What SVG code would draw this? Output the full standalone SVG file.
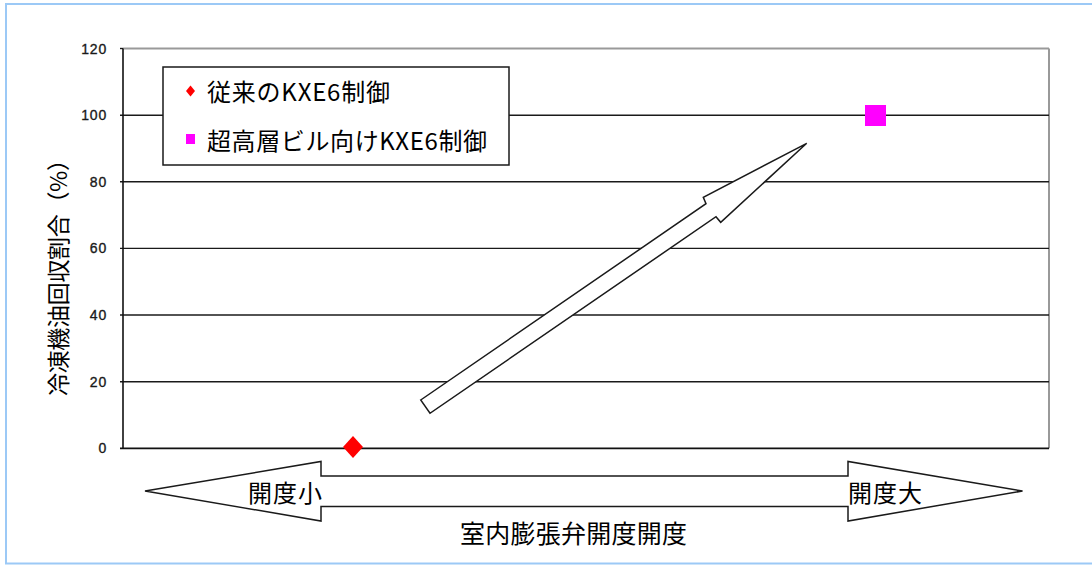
<svg xmlns="http://www.w3.org/2000/svg" width="1092" height="565" viewBox="0 0 1092 565">
  <style>
    .grid { stroke: #1a1a1a; stroke-width: 1.4; fill: none; }
    .tick { font-family: "Liberation Sans", Arial, sans-serif; font-size: 14px; fill: #1a1a1a; stroke: #1a1a1a; stroke-width: 0.35; text-anchor: end; letter-spacing: 0.8px; }
    .jp { font-family: "Noto Sans CJK JP", "Noto Sans", sans-serif; fill: #000; }
    .shape { fill: #fff; stroke: #1a1a1a; stroke-width: 1.5; stroke-linejoin: miter; }
  </style>
  <rect x="0" y="0" width="1092" height="565" fill="#fff"/>
  <rect x="6" y="4" width="1100" height="559.5" fill="none" stroke="#9cc9f6" stroke-width="2"/>

  <g id="plot-area">
    <line x1="123" y1="48.5" x2="1049" y2="48.5" stroke="#999" stroke-width="2"/>
    <line x1="1049" y1="48.5" x2="1049" y2="448.3" stroke="#999" stroke-width="2"/>
    <g class="grid">
      <line x1="120" y1="115.2" x2="1049" y2="115.2"/>
      <line x1="120" y1="181.8" x2="1049" y2="181.8"/>
      <line x1="120" y1="248.4" x2="1049" y2="248.4"/>
      <line x1="120" y1="315" x2="1049" y2="315"/>
      <line x1="120" y1="381.7" x2="1049" y2="381.7"/>
      <line x1="120" y1="48.5" x2="123" y2="48.5"/>
    </g>
    <line x1="120" y1="448.3" x2="1049" y2="448.3" stroke="#111" stroke-width="1.8"/>
    <line x1="123" y1="48.5" x2="123" y2="448.3" stroke="#111" stroke-width="1.6"/>
  </g>

  <g id="y-axis-labels">
    <text class="tick" x="107" y="53.5">120</text>
    <text class="tick" x="107" y="120.2">100</text>
    <text class="tick" x="107" y="186.8">80</text>
    <text class="tick" x="107" y="253.4">60</text>
    <text class="tick" x="107" y="320">40</text>
    <text class="tick" x="107" y="386.7">20</text>
    <text class="tick" x="107" y="453.3">0</text>
  </g>

  <g id="y-axis-title">
    <text class="jp" font-size="23" text-anchor="middle" textLength="248" lengthAdjust="spacing" transform="translate(67,272) rotate(-90)">冷凍機油回収割合（%）</text>
  </g>

  <g id="legend">
    <rect x="163" y="67" width="346" height="98" fill="#fff" stroke="#1a1a1a" stroke-width="1.5"/>
    <polygon points="190.5,85.5 195,91 190.5,96.5 186,91" fill="#ff0000"/>
    <text class="jp" x="207" y="101" font-size="24" textLength="183" lengthAdjust="spacing">従来のKXE6制御</text>
    <rect x="186" y="134" width="9" height="10" fill="#ff00ff"/>
    <text class="jp" x="207" y="150" font-size="24" textLength="280" lengthAdjust="spacing">超高層ビル向けKXE6制御</text>
  </g>

  <g id="series-conventional">
    <polygon points="353,436 363,447 353,458 343,447" fill="#ff0000"/>
  </g>
  <g id="series-highrise">
    <rect x="865" y="105" width="21" height="21" fill="#ff00ff"/>
  </g>

  <g id="connectors">
    <polygon id="trend-arrow" class="shape" points="420.7,400 706,203.7 703.3,197.3 806.7,143.3 720.7,222.3 716,216.7 430,413.3"/>
    <polygon id="opening-arrow" class="shape" points="145,491 321,461.5 321,476 848,476 848,461.5 1022.5,491 848,521 848,506.5 321,506.5 321,521"/>
  </g>

  <g id="label-small">
    <text class="jp" x="248" y="502" font-size="24" textLength="74" lengthAdjust="spacing">開度小</text>
  </g>
  <g id="label-large">
    <text class="jp" x="848" y="502" font-size="24" textLength="74" lengthAdjust="spacing">開度大</text>
  </g>
  <g id="x-axis-title">
    <text class="jp" x="460" y="543" font-size="25" textLength="227" lengthAdjust="spacing">室内膨張弁開度開度</text>
  </g>
</svg>
